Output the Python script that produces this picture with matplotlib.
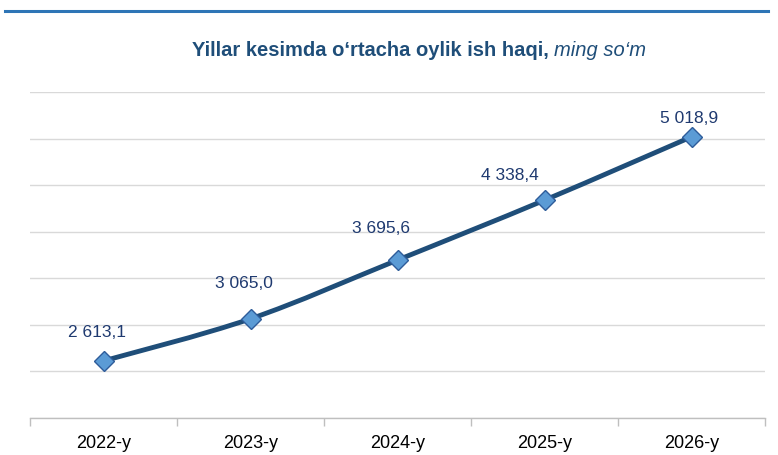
import matplotlib
matplotlib.use("Agg")
import matplotlib.pyplot as plt
from matplotlib.path import Path
from matplotlib.patches import PathPatch
from matplotlib.lines import Line2D
import numpy as np

categories = ["2022-y", "2023-y", "2024-y", "2025-y", "2026-y"]
values = [2613.1, 3065.0, 3695.6, 4338.4, 5018.9]
labels = ["2 613,1", "3 065,0", "3 695,6", "4 338,4", "5 018,9"]
title_bold = "Yillar kesimda o\u2018rtacha oylik ish haqi, "
title_italic = "ming so\u2018m"

plt.rcParams['font.family'] = ['Liberation Sans', 'DejaVu Sans']

W, H = 778, 455
fig = plt.figure(figsize=(W / 100, H / 100), dpi=100)
ax = fig.add_axes([30 / W, (H - 418) / H, (765 - 30) / W, (418 - 92) / H])

x = np.arange(len(values))
ax.set_xlim(-0.5, len(values) - 0.5)
ax.set_ylim(2000, 5500)
ax.set_yticks(np.arange(2000, 5501, 500))
ax.yaxis.grid(True, color="#D9D9D9", linewidth=1)
ax.set_axisbelow(True)
ax.tick_params(axis='y', left=False, labelleft=False)
for s in ["left", "right", "top"]:
    ax.spines[s].set_visible(False)
ax.spines["bottom"].set_color("#BFBFBF")
ax.spines["bottom"].set_linewidth(1)
ax.set_xticks(np.arange(-0.5, len(values)), minor=False)
ax.set_xticklabels([])
ax.tick_params(axis='x', which='major', length=6, color="#BFBFBF", width=1)
ax.set_xticks(x, minor=True)
ax.set_xticklabels(categories, minor=True, fontsize=13, color="#000000")
ax.tick_params(axis='x', which='minor', length=0, pad=12.5)

# smooth line through points (Catmull-Rom as cubic Bezier, drawn in display space)
pts = np.column_stack([x, values]).astype(float)
disp = ax.transData.transform(pts)
verts = [tuple(disp[0])]
codes = [Path.MOVETO]
t = 1 / 6.0
for i in range(len(disp) - 1):
    p0 = disp[i - 1] if i > 0 else disp[i]
    p1 = disp[i]
    p2 = disp[i + 1]
    p3 = disp[i + 2] if i + 2 < len(disp) else disp[i + 1]
    c1 = p1 + (p2 - p0) * t
    c2 = p2 - (p3 - p1) * t
    verts += [tuple(c1), tuple(c2), tuple(p2)]
    codes += [Path.CURVE4] * 3
path = Path(verts, codes)
patch = PathPatch(path, facecolor="none", edgecolor="#1F4E79", linewidth=3.5,
                  transform=None, capstyle='round', joinstyle='round', zorder=3)
ax.add_artist(patch)

ax.plot(x, values, linestyle="none", marker="D", markersize=10,
        markerfacecolor="#5B9BD5", markeredgecolor="#2E5C9A", markeredgewidth=1, zorder=4)

offsets = [(-7, -28), (-7, -35), (-16, -32), (-35, -25), (-2, -18)]
for xi, v, lab, off in zip(x, values, labels, offsets):
    ax.annotate(lab, (xi, v), xytext=(off[0] * 0.72, -off[1] * 0.72),
                textcoords="offset points", ha="center", va="center",
                fontsize=12.5, color="#1F3A70", zorder=5)

# top rule
fig.add_artist(Line2D([5 / W, 768 / W], [1 - 11 / H, 1 - 11 / H],
                      color="#2E75B6", linewidth=2.2, transform=fig.transFigure))

# title with bold + italic part
fig.canvas.draw()
r = fig.canvas.get_renderer()
tb = fig.text(0, 0, title_bold, fontsize=14.5, fontweight="bold", color="#1F4E79")
ti = fig.text(0, 0, title_italic, fontsize=14.5, fontstyle="italic", color="#1F4E79")
wb = tb.get_window_extent(r).width
wi = ti.get_window_extent(r).width
total = wb + wi
x0 = 419 - total / 2
ypix = H - 51
tb.set_position((x0 / W, ypix / H)); tb.set_va("center")
ti.set_position(((x0 + wb) / W, ypix / H)); ti.set_va("center")

fig.savefig("out.png", dpi=100)
